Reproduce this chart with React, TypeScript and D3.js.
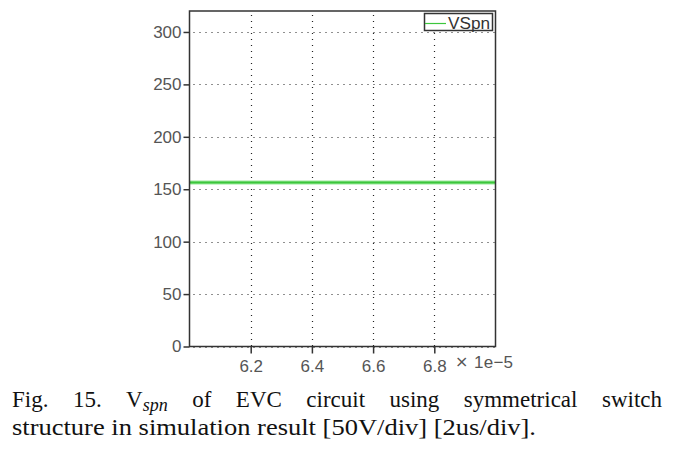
import React, { useEffect, useRef } from "react";
import * as d3 from "d3";

// simulation trace (time in s, voltage in V)
const timeSec = [6.0e-5, 6.2e-5, 6.4e-5, 6.6e-5, 6.8e-5, 7.0e-5];
const vspn = [156.5, 156.5, 156.5, 156.5, 156.5, 156.5];
const yTicks = [0, 50, 100, 150, 200, 250, 300];
const xTicks = [6.2e-5, 6.4e-5, 6.6e-5, 6.8e-5];
const seriesName = "VSpn";

const App = () => {
  const svgRef = useRef<SVGSVGElement>(null);

  useEffect(() => {
    const w = 675;
    const h = 451;
    const m = { left: 189.5, top: 11, right: 495.5, bottom: 346.5 };
    const svg = d3.select(svgRef.current).attr("width", w).attr("height", h);
    svg.selectAll("*").remove();

    const x = d3.scaleLinear().domain([6.0e-5, 7.0e-5]).range([m.left, m.right]);
    const y = d3.scaleLinear().domain([0, 320]).range([m.bottom, m.top]);

    const font = "'Liberation Sans', Arial, sans-serif";

    // grid
    const grid = svg.append("g").attr("stroke", "#222").attr("stroke-width", 1.2).attr("stroke-dasharray", "1,5");
    grid
      .selectAll("line.gy")
      .data(yTicks)
      .join("line")
      .attr("x1", m.left + 4)
      .attr("x2", m.right)
      .attr("y1", (d) => Math.round(y(d)) + 0.5)
      .attr("y2", (d) => Math.round(y(d)) + 0.5);
    grid
      .selectAll("line.gx")
      .data(xTicks)
      .join("line")
      .attr("y1", m.top + 4)
      .attr("y2", m.bottom)
      .attr("x1", (d) => Math.round(x(d)) + 0.5)
      .attr("x2", (d) => Math.round(x(d)) + 0.5);

    // trace
    const line = d3
      .line<number>()
      .x((_, i) => x(timeSec[i]))
      .y((d) => y(d));
    svg
      .append("path")
      .datum(vspn)
      .attr("fill", "none")
      .attr("stroke", "#9be89b")
      .attr("stroke-width", 4)
      .attr("d", line);
    svg
      .append("path")
      .datum(vspn)
      .attr("fill", "none")
      .attr("stroke", "#3cc63c")
      .attr("stroke-width", 2)
      .attr("d", line);

    // frame
    svg
      .append("rect")
      .attr("x", m.left)
      .attr("y", m.top)
      .attr("width", m.right - m.left)
      .attr("height", m.bottom - m.top)
      .attr("fill", "none")
      .attr("stroke", "#333")
      .attr("stroke-width", 1.5);

    // axes
    const yAxis = d3.axisLeft(y).tickValues(yTicks).tickSize(6).tickPadding(2).tickFormat(d3.format("d"));
    const gy = svg.append("g").attr("transform", `translate(${m.left},0)`).call(yAxis);
    const xAxis = d3
      .axisBottom(x)
      .tickValues(xTicks)
      .tickSize(7)
      .tickPadding(6)
      .tickFormat((d) => d3.format(".1f")((d as number) * 1e5));
    const gx = svg.append("g").attr("transform", `translate(0,${m.bottom})`).call(xAxis);
    [gx, gy].forEach((g) => {
      g.select(".domain").remove();
      g.selectAll("line").attr("stroke", "#333").attr("stroke-width", 1.5);
      g.selectAll("text").attr("fill", "#555").style("font-family", font).style("font-size", "17px");
    });

    // exponent note
    svg
      .append("text")
      .attr("x", 455)
      .attr("y", 367)
      .attr("fill", "#555")
      .style("font-family", "'DejaVu Sans', sans-serif")
      .style("font-size", "16px")
      .text("×");
    svg
      .append("text")
      .attr("x", 474)
      .attr("y", 368)
      .attr("fill", "#555")
      .attr("textLength", 39)
      .attr("lengthAdjust", "spacing")
      .style("font-family", font)
      .style("font-size", "17px")
      .text("1e−5");

    // legend
    const lg = svg.append("g");
    lg.append("rect")
      .attr("x", 424.5)
      .attr("y", 13.5)
      .attr("width", 68)
      .attr("height", 17)
      .attr("fill", "#fff")
      .attr("stroke", "#333")
      .attr("stroke-width", 1.5);
    lg.append("line")
      .attr("x1", 425)
      .attr("x2", 446)
      .attr("y1", 23.5)
      .attr("y2", 23.5)
      .attr("stroke", "#3cc63c")
      .attr("stroke-width", 1.2);
    lg.append("text")
      .attr("x", 448)
      .attr("y", 28.5)
      .attr("fill", "#333")
      .attr("textLength", 42)
      .attr("lengthAdjust", "spacingAndGlyphs")
      .style("font-family", font)
      .style("font-size", "16px")
      .text(seriesName);

    // caption, first line justified between 12 and 662
    const serif = "'Liberation Serif', 'Times New Roman', serif";
    const cap = svg.append("g").attr("fill", "#111").style("font-family", serif).style("font-size", "23px");
    const words = ["Fig.", "15.", "V", "of", "EVC", "circuit", "using", "symmetrical", "switch"];
    const nodes = words.map((t) => {
      const el = cap.append("text").attr("y", 407);
      if (t === "V") {
        el.append("tspan").text("V");
        el.append("tspan").attr("dy", 4).style("font-style", "italic").style("font-size", "18px").text("spn");
      } else el.text(t);
      return el;
    });
    const widths = nodes.map((n) => (n.node() as SVGTextElement).getComputedTextLength());
    const gap = (650 - d3.sum(widths)) / (words.length - 1);
    let cx = 12;
    nodes.forEach((n, i) => {
      n.attr("x", cx);
      cx += widths[i] + gap;
    });
    cap
      .append("text")
      .attr("x", 12)
      .attr("y", 435)
      .attr("textLength", 524)
      .attr("lengthAdjust", "spacingAndGlyphs")
      .text("structure in simulation result [50V/div] [2us/div].");
  }, []);

  return (
    <div>
      <svg ref={svgRef} style={{ position: "absolute", left: 0, top: 0 }}></svg>
    </div>
  );
};

export default App;
